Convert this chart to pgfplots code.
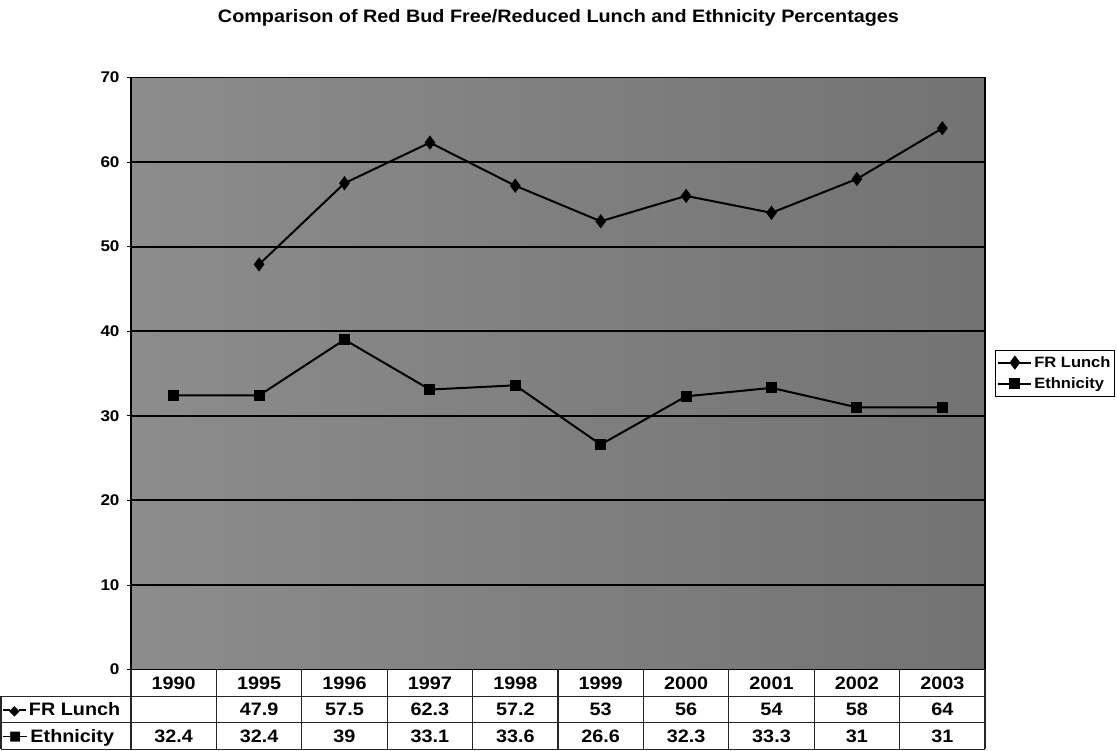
\documentclass[border=0pt]{standalone}
\usepackage{fontspec}
\setmainfont{Liberation Sans}[FakeStretch=1.1]
\newfontfamily\symfont{DejaVu Sans}
\usepackage{pgfplots}
\usepackage{pgfplotstable}
\pgfplotsset{compat=1.18}

\pgfplotstableread{
x fr eth
0 nan 32.4
1 47.9 32.4
2 57.5 39
3 62.3 33.1
4 57.2 33.6
5 53 26.6
6 56 32.3
7 54 33.3
8 58 31
9 64 31
}\datatable

\newcommand\titlefont{\fontsize{18}{20}\selectfont\bfseries}
\newcommand\tickfont{\fontsize{15.5}{17}\selectfont\bfseries}
\newcommand\tablefont{\fontsize{18}{20}\selectfont\bfseries}
\newcommand\legendfont{\fontsize{15}{17}\selectfont\bfseries}
\newcommand\keyline{\rule[5pt]{7pt}{1.6pt}}

\begin{document}
\begin{tikzpicture}[x=1pt,y=1pt]
\begin{axis}[
  scale only axis, width=854pt, height=592pt,
  xmin=-0.5, xmax=9.5, ymin=0, ymax=70,
  xtick={0,...,9}, xticklabels={},
  xtick style={draw=none},
  ytick={0,10,...,70}, ytick pos=left,
  yticklabel style={font=\tickfont, xshift=-4pt},
  tick align=outside, major tick length=4pt,
  ytick style={black, line width=0.8pt},
  ymajorgrids, major grid style={black, line width=1.8pt},
  axis line style={black, line width=1.8pt},
  axis background/.style={shade, left color=black!45, right color=black!55},
  clip=false,
  /pgf/number format/assume math mode=true,
  legend style={at={(1.0117,0.5397)}, anchor=north west, draw=black,
    line width=0.8pt, fill=white, font=\legendfont, inner xsep=2pt, inner ysep=4pt,
    row sep=5pt, legend cell align=left},
  legend image code/.code={\draw[mark repeat=2,mark phase=2,#1]
     plot coordinates {(0pt,0pt) (16.5pt,0pt) (33pt,0pt)};},
]
\addplot[black, line width=2pt, mark=diamond*, mark size=5.5pt, mark options={solid}]
  table[x=x, y=fr] {\datatable};
\addlegendentry{FR Lunch}
\addplot[black, line width=2pt, mark=square*, mark size=4.5pt, mark options={solid}]
  table[x=x, y=eth] {\datatable};
\addlegendentry{Ethnicity}
\coordinate (SW) at (rel axis cs:0,0);
\end{axis}

\begin{scope}[shift={(SW)}, xshift=-131pt, yshift=-81.5pt]
\path[use as bounding box] (0,0) rectangle (1117,751);

% title
\node[anchor=base, font=\titlefont] at (558.5,728) {Comparison of Red Bud Free/Reduced Lunch and Ethnicity Percentages};

% data table grid
\begin{scope}[line width=1.2pt, draw=black!85]
\foreach \k in {0,...,10} \draw ({131+85.4*\k},81.5) -- ({131+85.4*\k},1.5);
\draw (1,54.5) -- (985,54.5);
\draw (1,28.5) -- (985,28.5);
\draw (1,1.5) -- (985,1.5);
\draw (1,54.5) -- (1,1.5);
\end{scope}

% row labels
\node[anchor=base west, inner sep=0pt, font=\tablefont] at (3,35.3)
  {\keyline\kern-1pt{\symfont\fontsize{14}{14}\selectfont ◆}\kern-1pt\keyline\,FR Lunch};
\node[anchor=base west, inner sep=0pt, font=\tablefont] at (3,8.8)
  {\keyline\kern-1pt\raisebox{1.5pt}{\symfont\fontsize{13}{13}\selectfont ■}\kern-1pt\keyline\,Ethnicity};

% year row
\foreach \v [count=\i from 0] in {1990,1995,1996,1997,1998,1999,2000,2001,2002,2003}
  \node[anchor=base, font=\tablefont] at ({173.7+85.4*\i},61.8) {\v};
% row values
\foreach \v [count=\i from 1] in {47.9,57.5,62.3,57.2,53,56,54,58,64}
  \node[anchor=base, font=\tablefont] at ({173.7+85.4*\i},35.3) {\v};
\foreach \v [count=\i from 0] in {32.4,32.4,39,33.1,33.6,26.6,32.3,33.3,31,31}
  \node[anchor=base, font=\tablefont] at ({173.7+85.4*\i},8.8) {\v};
\end{scope}
\end{tikzpicture}
\end{document}
